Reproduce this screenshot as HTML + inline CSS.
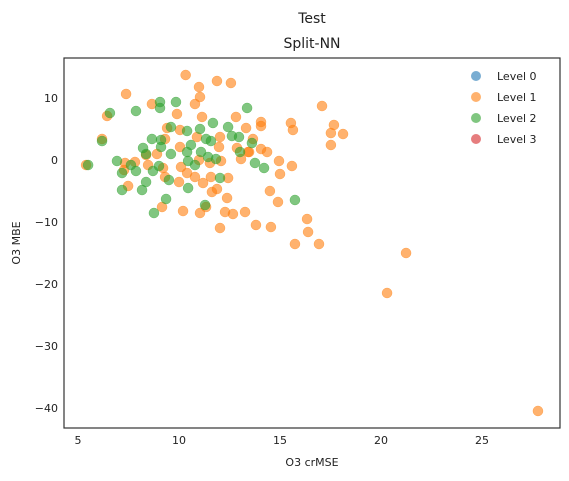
<!DOCTYPE html>
<html><head><meta charset="utf-8"><style>
body{margin:0;background:#fff;font-family:"Liberation Sans","DejaVu Sans",sans-serif;}
svg text{font-family:"DejaVu Sans","Liberation Sans",sans-serif;fill:#222;}
</style></head><body>
<svg id="chart" width="569" height="476" xmlns="http://www.w3.org/2000/svg">
<text x="312" y="23" font-size="14" text-anchor="middle">Test</text>
<text x="312" y="48" font-size="14" text-anchor="middle">Split-NN</text>
<g id="marks"></g>
<rect x="64" y="58" width="496" height="370" fill="none" stroke="#333" stroke-width="1.2"/>
<g id="xticks"></g><g id="yticks"></g>
<text x="312" y="466" font-size="11" text-anchor="middle">O3 crMSE</text>
<text transform="translate(20,243) rotate(-90)" font-size="11" text-anchor="middle">O3 MBE</text>
<g id="legend"></g>
</svg>
<script>
const xTicks=[5,10,15,20,25];
const yTicks=[10,0,-10,-20,-30,-40];
const seriesNames=["Level 0","Level 1","Level 2","Level 3"];
const seriesColors=["#1f77b4","#ff7f0e","#2ca02c","#d62728"];
const level0X=[];const level0Y=[];
const level1X=[10.33,11.88,12.57,10.99,7.38,11.04,8.66,10.79,9.90,6.44,11.14,9.41,10.05,10.89,12.03,6.19,9.31,10.05,11.98,12.87,13.42,8.91,8.37,10.99,11.53,12.08,13.07,5.40,7.33,7.82,7.28,8.47,9.21,10.10,10.40,10.79,9.31,10.00,11.19,11.58,12.43,7.48,11.63,11.88,12.38,9.16,11.34,10.20,11.04,12.28,12.67,13.27,12.03,13.81,14.06,12.82,13.32,17.08,15.54,15.64,17.67,17.52,18.12,17.52,14.06,13.66,14.06,14.36,13.47,14.95,15.59,15.00,14.50,14.90,14.55,16.34,16.39,15.74,16.93,20.30,21.24,27.77];
const level1Y=[13.71,12.74,12.42,11.77,10.65,10.16,9.03,9.03,7.42,7.10,6.94,5.16,4.84,3.71,3.71,3.39,3.39,2.10,2.10,1.94,1.29,0.97,0.81,0,-0.48,-0.16,0.16,-0.81,-0.48,-0.32,-1.61,-0.81,-1.29,-1.13,-2.10,-2.74,-2.74,-3.55,-3.71,-2.74,-2.90,-4.19,-5.16,-4.68,-6.13,-7.58,-7.58,-8.23,-8.55,-8.39,-8.71,-8.39,-10.97,-10.48,6.13,6.94,5.16,8.71,5.97,4.84,5.65,4.35,4.19,2.42,5.48,3.39,1.77,1.29,1.29,-0.16,-0.97,-2.26,-5.00,-6.77,-10.81,-9.52,-11.61,-13.55,-13.55,-21.45,-15.0,-40.48];
const level2X=[9.06,9.06,9.85,6.58,7.87,13.37,11.68,12.43,9.60,10.40,11.04,12.62,12.97,8.66,9.11,11.34,11.58,6.19,13.61,8.22,9.11,10.59,8.37,9.60,10.40,11.09,11.44,11.83,13.02,6.93,7.62,10.45,10.79,9.01,5.50,7.18,7.87,8.71,9.50,12.03,8.37,7.18,8.17,10.45,9.36,11.29,8.76,13.76,14.21,15.74];
const level2Y=[9.35,8.39,9.35,7.58,7.90,8.39,5.97,5.32,5.32,4.68,5.00,3.87,3.71,3.39,3.23,3.39,3.06,3.06,2.74,1.94,2.10,2.42,0.97,0.97,1.29,1.29,0.48,0.16,1.29,-0.16,-0.81,-0.16,-0.81,-0.97,-0.81,-2.10,-1.77,-1.77,-3.23,-2.90,-3.55,-4.84,-4.84,-4.52,-6.29,-7.26,-8.55,-0.48,-1.29,-6.45];
const level3X=[];const level3Y=[];
const NS="http://www.w3.org/2000/svg";
function sx(v){return 78+(v-5)*20.2;}
function sy(v){return 160-v*6.2;}
function mk(t,a,p){const e=document.createElementNS(NS,t);for(const k in a)e.setAttribute(k,a[k]);p.appendChild(e);return e;}
const marks=document.getElementById('marks');
const all=[[level0X,level0Y],[level1X,level1Y],[level2X,level2Y],[level3X,level3Y]];
all.forEach((s,si)=>{s[0].forEach((x,i)=>{
 const c=mk('circle',{cx:sx(x),cy:sy(s[1][i]),r:5,fill:seriesColors[si],'fill-opacity':0.6,stroke:seriesColors[si],'stroke-opacity':0.6,'stroke-width':0.5},marks);
 
 
});});
const xg=document.getElementById('xticks');
xTicks.forEach(v=>{const t=mk('text',{x:sx(v),y:444,'font-size':11,'text-anchor':'middle'},xg);t.textContent=v;
 
 });
const yg=document.getElementById('yticks');
yTicks.forEach(v=>{const t=mk('text',{x:58,y:sy(v)+4,'font-size':11,'text-anchor':'end'},yg);t.textContent=v<0?'\u2212'+(-v):v;
 
 });
const lg=document.getElementById('legend');
seriesNames.forEach((n,i)=>{const y=76+i*21;
 const c=mk('circle',{cx:476,cy:y,r:5,fill:seriesColors[i],'fill-opacity':0.6},lg);
 
 
 const t=mk('text',{x:497,y:y+4,'font-size':11},lg);t.textContent=n;
 
 });
</script>
</body></html>
